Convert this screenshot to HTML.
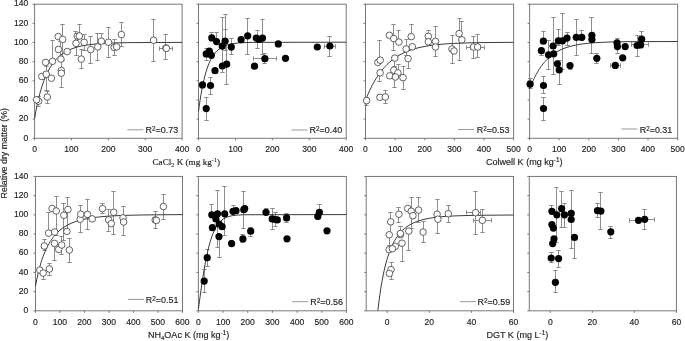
<!DOCTYPE html>
<html><head><meta charset="utf-8"><style>
html,body{margin:0;padding:0;background:#fff;width:685px;height:341px;overflow:hidden}
svg{display:block;will-change:transform}
text{font-family:"Liberation Sans",sans-serif;fill:#222;stroke:#222;stroke-width:0.15px}
.tk{font-size:8.55px}
.lg{font-size:8.95px}
.ttl{font-size:9.05px}
.ser{font-family:"Liberation Serif",serif;font-size:9.2px}
</style></head><body>
<svg width="685" height="341" viewBox="0 0 685 341">
<rect x="34.6" y="4.2" width="147.5" height="134.1" fill="none" stroke="#777" stroke-width="1"/>
<line x1="32.6" y1="138.3" x2="34.6" y2="138.3" stroke="#777"/>
<text x="28.3" y="140.5" text-anchor="end" class="tk">0</text>
<line x1="32.6" y1="119.14" x2="34.6" y2="119.14" stroke="#777"/>
<text x="28.3" y="121.34" text-anchor="end" class="tk">20</text>
<line x1="32.6" y1="99.99" x2="34.6" y2="99.99" stroke="#777"/>
<text x="28.3" y="102.19" text-anchor="end" class="tk">40</text>
<line x1="32.6" y1="80.83" x2="34.6" y2="80.83" stroke="#777"/>
<text x="28.3" y="83.03" text-anchor="end" class="tk">60</text>
<line x1="32.6" y1="61.67" x2="34.6" y2="61.67" stroke="#777"/>
<text x="28.3" y="63.87" text-anchor="end" class="tk">80</text>
<line x1="32.6" y1="42.51" x2="34.6" y2="42.51" stroke="#777"/>
<text x="28.3" y="44.71" text-anchor="end" class="tk">100</text>
<line x1="32.6" y1="23.36" x2="34.6" y2="23.36" stroke="#777"/>
<text x="28.3" y="25.56" text-anchor="end" class="tk">120</text>
<line x1="32.6" y1="4.2" x2="34.6" y2="4.2" stroke="#777"/>
<text x="28.3" y="6.4" text-anchor="end" class="tk">140</text>
<line x1="34.6" y1="138.3" x2="34.6" y2="140.3" stroke="#777"/>
<text x="34.6" y="151.9" text-anchor="middle" class="tk">0</text>
<line x1="71.47" y1="138.3" x2="71.47" y2="140.3" stroke="#777"/>
<text x="71.47" y="151.9" text-anchor="middle" class="tk">100</text>
<line x1="108.35" y1="138.3" x2="108.35" y2="140.3" stroke="#777"/>
<text x="108.35" y="151.9" text-anchor="middle" class="tk">200</text>
<line x1="145.22" y1="138.3" x2="145.22" y2="140.3" stroke="#777"/>
<text x="145.22" y="151.9" text-anchor="middle" class="tk">300</text>
<line x1="182.1" y1="138.3" x2="182.1" y2="140.3" stroke="#777"/>
<text x="182.1" y="151.9" text-anchor="middle" class="tk">400</text>
<rect x="198.5" y="4.2" width="147.7" height="134.1" fill="none" stroke="#777" stroke-width="1"/>
<line x1="196.5" y1="138.3" x2="198.5" y2="138.3" stroke="#777"/>
<line x1="196.5" y1="119.14" x2="198.5" y2="119.14" stroke="#777"/>
<line x1="196.5" y1="99.99" x2="198.5" y2="99.99" stroke="#777"/>
<line x1="196.5" y1="80.83" x2="198.5" y2="80.83" stroke="#777"/>
<line x1="196.5" y1="61.67" x2="198.5" y2="61.67" stroke="#777"/>
<line x1="196.5" y1="42.51" x2="198.5" y2="42.51" stroke="#777"/>
<line x1="196.5" y1="23.36" x2="198.5" y2="23.36" stroke="#777"/>
<line x1="196.5" y1="4.2" x2="198.5" y2="4.2" stroke="#777"/>
<line x1="198.5" y1="138.3" x2="198.5" y2="140.3" stroke="#777"/>
<text x="198.5" y="151.9" text-anchor="middle" class="tk">0</text>
<line x1="235.43" y1="138.3" x2="235.43" y2="140.3" stroke="#777"/>
<text x="235.43" y="151.9" text-anchor="middle" class="tk">100</text>
<line x1="272.35" y1="138.3" x2="272.35" y2="140.3" stroke="#777"/>
<text x="272.35" y="151.9" text-anchor="middle" class="tk">200</text>
<line x1="309.27" y1="138.3" x2="309.27" y2="140.3" stroke="#777"/>
<text x="309.27" y="151.9" text-anchor="middle" class="tk">300</text>
<line x1="346.2" y1="138.3" x2="346.2" y2="140.3" stroke="#777"/>
<text x="346.2" y="151.9" text-anchor="middle" class="tk">400</text>
<rect x="365.5" y="4.2" width="148.1" height="134.1" fill="none" stroke="#777" stroke-width="1"/>
<line x1="363.5" y1="138.3" x2="365.5" y2="138.3" stroke="#777"/>
<line x1="363.5" y1="119.14" x2="365.5" y2="119.14" stroke="#777"/>
<line x1="363.5" y1="99.99" x2="365.5" y2="99.99" stroke="#777"/>
<line x1="363.5" y1="80.83" x2="365.5" y2="80.83" stroke="#777"/>
<line x1="363.5" y1="61.67" x2="365.5" y2="61.67" stroke="#777"/>
<line x1="363.5" y1="42.51" x2="365.5" y2="42.51" stroke="#777"/>
<line x1="363.5" y1="23.36" x2="365.5" y2="23.36" stroke="#777"/>
<line x1="363.5" y1="4.2" x2="365.5" y2="4.2" stroke="#777"/>
<line x1="365.5" y1="138.3" x2="365.5" y2="140.3" stroke="#777"/>
<text x="365.5" y="151.9" text-anchor="middle" class="tk">0</text>
<line x1="395.12" y1="138.3" x2="395.12" y2="140.3" stroke="#777"/>
<text x="395.12" y="151.9" text-anchor="middle" class="tk">100</text>
<line x1="424.74" y1="138.3" x2="424.74" y2="140.3" stroke="#777"/>
<text x="424.74" y="151.9" text-anchor="middle" class="tk">200</text>
<line x1="454.36" y1="138.3" x2="454.36" y2="140.3" stroke="#777"/>
<text x="454.36" y="151.9" text-anchor="middle" class="tk">300</text>
<line x1="483.98" y1="138.3" x2="483.98" y2="140.3" stroke="#777"/>
<text x="483.98" y="151.9" text-anchor="middle" class="tk">400</text>
<line x1="513.6" y1="138.3" x2="513.6" y2="140.3" stroke="#777"/>
<text x="513.6" y="151.9" text-anchor="middle" class="tk">500</text>
<rect x="529.6" y="4.2" width="148" height="134.1" fill="none" stroke="#777" stroke-width="1"/>
<line x1="527.6" y1="138.3" x2="529.6" y2="138.3" stroke="#777"/>
<line x1="527.6" y1="119.14" x2="529.6" y2="119.14" stroke="#777"/>
<line x1="527.6" y1="99.99" x2="529.6" y2="99.99" stroke="#777"/>
<line x1="527.6" y1="80.83" x2="529.6" y2="80.83" stroke="#777"/>
<line x1="527.6" y1="61.67" x2="529.6" y2="61.67" stroke="#777"/>
<line x1="527.6" y1="42.51" x2="529.6" y2="42.51" stroke="#777"/>
<line x1="527.6" y1="23.36" x2="529.6" y2="23.36" stroke="#777"/>
<line x1="527.6" y1="4.2" x2="529.6" y2="4.2" stroke="#777"/>
<line x1="529.6" y1="138.3" x2="529.6" y2="140.3" stroke="#777"/>
<text x="529.6" y="151.9" text-anchor="middle" class="tk">0</text>
<line x1="559.2" y1="138.3" x2="559.2" y2="140.3" stroke="#777"/>
<text x="559.2" y="151.9" text-anchor="middle" class="tk">100</text>
<line x1="588.8" y1="138.3" x2="588.8" y2="140.3" stroke="#777"/>
<text x="588.8" y="151.9" text-anchor="middle" class="tk">200</text>
<line x1="618.4" y1="138.3" x2="618.4" y2="140.3" stroke="#777"/>
<text x="618.4" y="151.9" text-anchor="middle" class="tk">300</text>
<line x1="648" y1="138.3" x2="648" y2="140.3" stroke="#777"/>
<text x="648" y="151.9" text-anchor="middle" class="tk">400</text>
<line x1="677.6" y1="138.3" x2="677.6" y2="140.3" stroke="#777"/>
<text x="677.6" y="151.9" text-anchor="middle" class="tk">500</text>
<rect x="35.5" y="176.45" width="147" height="134.35" fill="none" stroke="#777" stroke-width="1"/>
<line x1="33.5" y1="310.8" x2="35.5" y2="310.8" stroke="#777"/>
<text x="28.3" y="313" text-anchor="end" class="tk">0</text>
<line x1="33.5" y1="291.61" x2="35.5" y2="291.61" stroke="#777"/>
<text x="28.3" y="293.81" text-anchor="end" class="tk">20</text>
<line x1="33.5" y1="272.41" x2="35.5" y2="272.41" stroke="#777"/>
<text x="28.3" y="274.61" text-anchor="end" class="tk">40</text>
<line x1="33.5" y1="253.22" x2="35.5" y2="253.22" stroke="#777"/>
<text x="28.3" y="255.42" text-anchor="end" class="tk">60</text>
<line x1="33.5" y1="234.03" x2="35.5" y2="234.03" stroke="#777"/>
<text x="28.3" y="236.23" text-anchor="end" class="tk">80</text>
<line x1="33.5" y1="214.84" x2="35.5" y2="214.84" stroke="#777"/>
<text x="28.3" y="217.04" text-anchor="end" class="tk">100</text>
<line x1="33.5" y1="195.64" x2="35.5" y2="195.64" stroke="#777"/>
<text x="28.3" y="197.84" text-anchor="end" class="tk">120</text>
<line x1="33.5" y1="176.45" x2="35.5" y2="176.45" stroke="#777"/>
<text x="28.3" y="178.65" text-anchor="end" class="tk">140</text>
<line x1="35.5" y1="310.8" x2="35.5" y2="312.8" stroke="#777"/>
<text x="35.5" y="324.8" text-anchor="middle" class="tk">0</text>
<line x1="60" y1="310.8" x2="60" y2="312.8" stroke="#777"/>
<text x="60" y="324.8" text-anchor="middle" class="tk">100</text>
<line x1="84.5" y1="310.8" x2="84.5" y2="312.8" stroke="#777"/>
<text x="84.5" y="324.8" text-anchor="middle" class="tk">200</text>
<line x1="109" y1="310.8" x2="109" y2="312.8" stroke="#777"/>
<text x="109" y="324.8" text-anchor="middle" class="tk">300</text>
<line x1="133.5" y1="310.8" x2="133.5" y2="312.8" stroke="#777"/>
<text x="133.5" y="324.8" text-anchor="middle" class="tk">400</text>
<line x1="158" y1="310.8" x2="158" y2="312.8" stroke="#777"/>
<text x="158" y="324.8" text-anchor="middle" class="tk">500</text>
<line x1="182.5" y1="310.8" x2="182.5" y2="312.8" stroke="#777"/>
<text x="182.5" y="324.8" text-anchor="middle" class="tk">600</text>
<rect x="198.4" y="176.45" width="148" height="134.35" fill="none" stroke="#777" stroke-width="1"/>
<line x1="196.4" y1="310.8" x2="198.4" y2="310.8" stroke="#777"/>
<line x1="196.4" y1="291.61" x2="198.4" y2="291.61" stroke="#777"/>
<line x1="196.4" y1="272.41" x2="198.4" y2="272.41" stroke="#777"/>
<line x1="196.4" y1="253.22" x2="198.4" y2="253.22" stroke="#777"/>
<line x1="196.4" y1="234.03" x2="198.4" y2="234.03" stroke="#777"/>
<line x1="196.4" y1="214.84" x2="198.4" y2="214.84" stroke="#777"/>
<line x1="196.4" y1="195.64" x2="198.4" y2="195.64" stroke="#777"/>
<line x1="196.4" y1="176.45" x2="198.4" y2="176.45" stroke="#777"/>
<line x1="198.4" y1="310.8" x2="198.4" y2="312.8" stroke="#777"/>
<text x="198.4" y="324.8" text-anchor="middle" class="tk">0</text>
<line x1="223.07" y1="310.8" x2="223.07" y2="312.8" stroke="#777"/>
<text x="223.07" y="324.8" text-anchor="middle" class="tk">100</text>
<line x1="247.73" y1="310.8" x2="247.73" y2="312.8" stroke="#777"/>
<text x="247.73" y="324.8" text-anchor="middle" class="tk">200</text>
<line x1="272.4" y1="310.8" x2="272.4" y2="312.8" stroke="#777"/>
<text x="272.4" y="324.8" text-anchor="middle" class="tk">300</text>
<line x1="297.07" y1="310.8" x2="297.07" y2="312.8" stroke="#777"/>
<text x="297.07" y="324.8" text-anchor="middle" class="tk">400</text>
<line x1="321.73" y1="310.8" x2="321.73" y2="312.8" stroke="#777"/>
<text x="321.73" y="324.8" text-anchor="middle" class="tk">500</text>
<line x1="346.4" y1="310.8" x2="346.4" y2="312.8" stroke="#777"/>
<text x="346.4" y="324.8" text-anchor="middle" class="tk">600</text>
<rect x="366.2" y="176.45" width="147.3" height="134.35" fill="none" stroke="#777" stroke-width="1"/>
<line x1="364.2" y1="310.8" x2="366.2" y2="310.8" stroke="#777"/>
<line x1="364.2" y1="291.61" x2="366.2" y2="291.61" stroke="#777"/>
<line x1="364.2" y1="272.41" x2="366.2" y2="272.41" stroke="#777"/>
<line x1="364.2" y1="253.22" x2="366.2" y2="253.22" stroke="#777"/>
<line x1="364.2" y1="234.03" x2="366.2" y2="234.03" stroke="#777"/>
<line x1="364.2" y1="214.84" x2="366.2" y2="214.84" stroke="#777"/>
<line x1="364.2" y1="195.64" x2="366.2" y2="195.64" stroke="#777"/>
<line x1="364.2" y1="176.45" x2="366.2" y2="176.45" stroke="#777"/>
<line x1="387.24" y1="310.8" x2="387.24" y2="312.8" stroke="#777"/>
<text x="387.24" y="324.8" text-anchor="middle" class="tk">0</text>
<line x1="429.33" y1="310.8" x2="429.33" y2="312.8" stroke="#777"/>
<text x="429.33" y="324.8" text-anchor="middle" class="tk">20</text>
<line x1="471.41" y1="310.8" x2="471.41" y2="312.8" stroke="#777"/>
<text x="471.41" y="324.8" text-anchor="middle" class="tk">40</text>
<line x1="513.5" y1="310.8" x2="513.5" y2="312.8" stroke="#777"/>
<text x="513.5" y="324.8" text-anchor="middle" class="tk">60</text>
<rect x="529.3" y="176.45" width="147.1" height="134.35" fill="none" stroke="#777" stroke-width="1"/>
<line x1="527.3" y1="310.8" x2="529.3" y2="310.8" stroke="#777"/>
<line x1="527.3" y1="291.61" x2="529.3" y2="291.61" stroke="#777"/>
<line x1="527.3" y1="272.41" x2="529.3" y2="272.41" stroke="#777"/>
<line x1="527.3" y1="253.22" x2="529.3" y2="253.22" stroke="#777"/>
<line x1="527.3" y1="234.03" x2="529.3" y2="234.03" stroke="#777"/>
<line x1="527.3" y1="214.84" x2="529.3" y2="214.84" stroke="#777"/>
<line x1="527.3" y1="195.64" x2="529.3" y2="195.64" stroke="#777"/>
<line x1="527.3" y1="176.45" x2="529.3" y2="176.45" stroke="#777"/>
<line x1="550.31" y1="310.8" x2="550.31" y2="312.8" stroke="#777"/>
<text x="550.31" y="324.8" text-anchor="middle" class="tk">0</text>
<line x1="592.34" y1="310.8" x2="592.34" y2="312.8" stroke="#777"/>
<text x="592.34" y="324.8" text-anchor="middle" class="tk">20</text>
<line x1="634.37" y1="310.8" x2="634.37" y2="312.8" stroke="#777"/>
<text x="634.37" y="324.8" text-anchor="middle" class="tk">40</text>
<line x1="676.4" y1="310.8" x2="676.4" y2="312.8" stroke="#777"/>
<text x="676.4" y="324.8" text-anchor="middle" class="tk">60</text>
<path d="M38.5,96.5V106.5M36.3,96.5h4.4M36.3,106.5h4.4" stroke="#808080" stroke-width="0.9" fill="none"/>
<path d="M47.5,91.5V103.5M45.3,91.5h4.4M45.3,103.5h4.4" stroke="#808080" stroke-width="0.9" fill="none"/>
<path d="M46.5,66.5V90.5M44.3,66.5h4.4M44.3,90.5h4.4" stroke="#808080" stroke-width="0.9" fill="none"/>
<path d="M52.5,40.5V62.5M50.3,40.5h4.4M50.3,62.5h4.4" stroke="#808080" stroke-width="0.9" fill="none"/>
<path d="M62.5,24.5V60.5M60.3,24.5h4.4M60.3,60.5h4.4" stroke="#808080" stroke-width="0.9" fill="none"/>
<path d="M60.5,41.5V59.5M58.3,41.5h4.4M58.3,59.5h4.4" stroke="#808080" stroke-width="0.9" fill="none"/>
<path d="M61.5,59.5V87.5M59.3,59.5h4.4M59.3,87.5h4.4" stroke="#808080" stroke-width="0.9" fill="none"/>
<path d="M75.5,31.5V43.5M73.3,31.5h4.4M73.3,43.5h4.4" stroke="#808080" stroke-width="0.9" fill="none"/>
<path d="M84.5,34.5V50.5M82.3,34.5h4.4M82.3,50.5h4.4" stroke="#808080" stroke-width="0.9" fill="none"/>
<path d="M81.5,59.5V68.5M79.3,59.5h4.4M79.3,68.5h4.4" stroke="#808080" stroke-width="0.9" fill="none"/>
<path d="M90.5,36.5V63.5M88.3,36.5h4.4M88.3,63.5h4.4" stroke="#808080" stroke-width="0.9" fill="none"/>
<path d="M97.5,33.5V60.5M95.3,33.5h4.4M95.3,60.5h4.4" stroke="#808080" stroke-width="0.9" fill="none"/>
<path d="M101.5,33.5V41.5M99.3,33.5h4.4M99.3,41.5h4.4" stroke="#808080" stroke-width="0.9" fill="none"/>
<path d="M108.5,27.5V57.5M106.3,27.5h4.4M106.3,57.5h4.4" stroke="#808080" stroke-width="0.9" fill="none"/>
<path d="M114.5,39.5V55.5M112.3,39.5h4.4M112.3,55.5h4.4" stroke="#808080" stroke-width="0.9" fill="none"/>
<path d="M121.5,22.5V46.5M119.3,22.5h4.4M119.3,46.5h4.4" stroke="#808080" stroke-width="0.9" fill="none"/>
<path d="M153.5,19.5V61.5M151.3,19.5h4.4M151.3,61.5h4.4" stroke="#808080" stroke-width="0.9" fill="none"/>
<path d="M165.5,34.5V59.5M163.3,34.5h4.4M163.3,59.5h4.4" stroke="#808080" stroke-width="0.9" fill="none"/>
<path d="M79.5,24.5V36.5M77.3,24.5h4.4M77.3,36.5h4.4" stroke="#808080" stroke-width="0.9" fill="none"/>
<path d="M76.5,43.5V55.5M74.3,43.5h4.4M74.3,55.5h4.4" stroke="#808080" stroke-width="0.9" fill="none"/>
<path d="M81.5,49.5V59.5M79.3,49.5h4.4M79.3,59.5h4.4" stroke="#808080" stroke-width="0.9" fill="none"/>
<path d="M159.5,48.5H172.5M159.5,46.3v4.4M172.5,46.3v4.4" stroke="#808080" stroke-width="0.9" fill="none"/>
<path fill="none" stroke="#3a3a3a" stroke-width="1" stroke-linejoin="round" d="M34.60,118.38 L35.00,116.02 L36.00,110.51 L37.00,105.51 L38.00,100.96 L39.00,96.80 L40.00,92.99 L41.00,89.48 L42.00,86.25 L43.00,83.28 L44.00,80.53 L45.00,77.98 L46.00,75.63 L47.00,73.45 L48.00,71.42 L49.00,69.54 L50.00,67.80 L51.00,66.17 L52.00,64.66 L53.00,63.25 L54.00,61.94 L55.00,60.71 L56.00,59.57 L57.00,58.50 L58.00,57.51 L59.00,56.58 L60.00,55.71 L61.00,54.90 L62.00,54.14 L63.00,53.43 L64.00,52.76 L65.00,52.14 L66.00,51.55 L67.00,51.01 L68.00,50.50 L69.00,50.01 L72.00,48.74 L75.00,47.69 L78.00,46.83 L81.00,46.10 L84.00,45.50 L87.00,45.00 L90.00,44.59 L93.00,44.24 L96.00,43.95 L99.00,43.70 L102.00,43.50 L105.00,43.33 L108.00,43.18 L111.00,43.06 L114.00,42.96 L117.00,42.87 L120.00,42.80 L123.00,42.74 L126.00,42.69 L129.00,42.65 L132.00,42.61 L135.00,42.58 L182.1,42.40"/>
<circle cx="38.7" cy="101.1" r="3.3" fill="#fff" stroke="#3c3c3c" stroke-width="0.8"/>
<circle cx="47.3" cy="97.0" r="3.3" fill="#fff" stroke="#3c3c3c" stroke-width="0.8"/>
<circle cx="41.8" cy="76.5" r="3.3" fill="#fff" stroke="#3c3c3c" stroke-width="0.8"/>
<circle cx="46.3" cy="74.2" r="3.3" fill="#fff" stroke="#3c3c3c" stroke-width="0.8"/>
<circle cx="51.4" cy="78.2" r="3.3" fill="#fff" stroke="#3c3c3c" stroke-width="0.8"/>
<circle cx="45.6" cy="62.4" r="3.3" fill="#fff" stroke="#3c3c3c" stroke-width="0.8"/>
<circle cx="52.5" cy="61.3" r="3.3" fill="#fff" stroke="#3c3c3c" stroke-width="0.8"/>
<circle cx="60.9" cy="59.1" r="3.3" fill="#fff" stroke="#3c3c3c" stroke-width="0.8"/>
<circle cx="61.3" cy="70.4" r="3.3" fill="#fff" stroke="#3c3c3c" stroke-width="0.8"/>
<circle cx="61.3" cy="73.2" r="3.3" fill="#fff" stroke="#3c3c3c" stroke-width="0.8"/>
<circle cx="58.2" cy="36.6" r="3.3" fill="#fff" stroke="#3c3c3c" stroke-width="0.8"/>
<circle cx="62.7" cy="39.4" r="3.3" fill="#fff" stroke="#3c3c3c" stroke-width="0.8"/>
<circle cx="58.4" cy="49.4" r="3.3" fill="#fff" stroke="#3c3c3c" stroke-width="0.8"/>
<circle cx="67.2" cy="51.6" r="3.3" fill="#fff" stroke="#3c3c3c" stroke-width="0.8"/>
<circle cx="76.0" cy="43.3" r="3.3" fill="#fff" stroke="#3c3c3c" stroke-width="0.8"/>
<circle cx="84.1" cy="42.3" r="3.3" fill="#fff" stroke="#3c3c3c" stroke-width="0.8"/>
<circle cx="81.3" cy="59.1" r="3.3" fill="#fff" stroke="#3c3c3c" stroke-width="0.8"/>
<circle cx="90.7" cy="49.6" r="3.3" fill="#fff" stroke="#3c3c3c" stroke-width="0.8"/>
<circle cx="97.8" cy="46.9" r="3.3" fill="#fff" stroke="#3c3c3c" stroke-width="0.8"/>
<circle cx="101.3" cy="41.2" r="3.3" fill="#fff" stroke="#3c3c3c" stroke-width="0.8"/>
<circle cx="108.5" cy="42.2" r="3.3" fill="#fff" stroke="#3c3c3c" stroke-width="0.8"/>
<circle cx="114.2" cy="47.5" r="3.3" fill="#fff" stroke="#3c3c3c" stroke-width="0.8"/>
<circle cx="116.7" cy="46.9" r="3.3" fill="#fff" stroke="#3c3c3c" stroke-width="0.8"/>
<circle cx="121.4" cy="34.6" r="3.3" fill="#fff" stroke="#3c3c3c" stroke-width="0.8"/>
<circle cx="153.6" cy="40.2" r="3.3" fill="#fff" stroke="#3c3c3c" stroke-width="0.8"/>
<circle cx="165.9" cy="48.0" r="3.3" fill="#fff" stroke="#3c3c3c" stroke-width="0.8"/>
<circle cx="77.4" cy="36.2" r="3.3" fill="#fff" stroke="#3c3c3c" stroke-width="0.8"/>
<circle cx="79.4" cy="36.0" r="3.3" fill="#fff" stroke="#3c3c3c" stroke-width="0.8"/>
<circle cx="36.6" cy="99.8" r="3.3" fill="#fff" stroke="#3c3c3c" stroke-width="0.8"/>
<circle cx="166.4" cy="48.4" r="3.3" fill="#fff" stroke="#3c3c3c" stroke-width="0.8"/>
<line x1="127.3" y1="129.8" x2="143.3" y2="129.8" stroke="#999" stroke-width="1"/>
<text x="145.6" y="132.9" class="lg">R<tspan dy="-2.1" font-size="6.3px">2</tspan><tspan dy="2.1">=0.73</tspan></text>
<path d="M206.5,97.5V120.5M204.3,97.5h4.4M204.3,120.5h4.4" stroke="#808080" stroke-width="0.9" fill="none"/>
<path d="M210.5,77.5V94.5M208.3,77.5h4.4M208.3,94.5h4.4" stroke="#808080" stroke-width="0.9" fill="none"/>
<path d="M211.5,32.5V38.5M209.3,32.5h4.4M209.3,38.5h4.4" stroke="#808080" stroke-width="0.9" fill="none"/>
<path d="M216.5,32.5V42.5M214.3,32.5h4.4M214.3,42.5h4.4" stroke="#808080" stroke-width="0.9" fill="none"/>
<path d="M206.5,48.5V60.5M204.3,48.5h4.4M204.3,60.5h4.4" stroke="#808080" stroke-width="0.9" fill="none"/>
<path d="M222.5,17.5V72.5M220.3,17.5h4.4M220.3,72.5h4.4" stroke="#808080" stroke-width="0.9" fill="none"/>
<path d="M225.5,14.5V41.5M223.3,14.5h4.4M223.3,41.5h4.4" stroke="#808080" stroke-width="0.9" fill="none"/>
<path d="M226.5,41.5V84.5M224.3,41.5h4.4M224.3,84.5h4.4" stroke="#808080" stroke-width="0.9" fill="none"/>
<path d="M225.5,29.5V50.5M223.3,29.5h4.4M223.3,50.5h4.4" stroke="#808080" stroke-width="0.9" fill="none"/>
<path d="M231.5,38.5V54.5M229.3,38.5h4.4M229.3,54.5h4.4" stroke="#808080" stroke-width="0.9" fill="none"/>
<path d="M247.5,18.5V54.5M245.3,18.5h4.4M245.3,54.5h4.4" stroke="#808080" stroke-width="0.9" fill="none"/>
<path d="M257.5,30.5V48.5M255.3,30.5h4.4M255.3,48.5h4.4" stroke="#808080" stroke-width="0.9" fill="none"/>
<path d="M262.5,19.5V54.5M260.3,19.5h4.4M260.3,54.5h4.4" stroke="#808080" stroke-width="0.9" fill="none"/>
<path d="M264.5,53.5V63.5M262.3,53.5h4.4M262.3,63.5h4.4" stroke="#808080" stroke-width="0.9" fill="none"/>
<path d="M329.5,36.5V56.5M327.3,36.5h4.4M327.3,56.5h4.4" stroke="#808080" stroke-width="0.9" fill="none"/>
<path d="M253.5,58.5H276.5M253.5,56.3v4.4M276.5,56.3v4.4" stroke="#808080" stroke-width="0.9" fill="none"/>
<path d="M324.5,46.5H335.5M324.5,44.3v4.4M335.5,44.3v4.4" stroke="#808080" stroke-width="0.9" fill="none"/>
<path fill="none" stroke="#3a3a3a" stroke-width="1" stroke-linejoin="round" d="M198.50,111.40 L199.00,107.62 L200.00,100.66 L201.00,94.45 L202.00,88.89 L203.00,83.93 L204.00,79.49 L205.00,75.53 L206.00,71.98 L207.00,68.82 L208.00,65.99 L209.00,63.46 L210.00,61.20 L211.00,59.18 L212.00,57.37 L213.00,55.76 L214.00,54.32 L215.00,53.03 L216.00,51.88 L217.00,50.85 L218.00,49.93 L221.00,47.72 L224.00,46.14 L227.00,45.01 L230.00,44.21 L233.00,43.63 L236.00,43.22 L239.00,42.93 L242.00,42.72 L245.00,42.57 L248.00,42.47 L251.00,42.39 L346.2,42.20"/>
<circle cx="202.5" cy="84.9" r="3.6" fill="#000"/>
<circle cx="210.5" cy="85.5" r="3.6" fill="#000"/>
<circle cx="206.2" cy="108.6" r="3.6" fill="#000"/>
<circle cx="206.2" cy="53.9" r="3.6" fill="#000"/>
<circle cx="209.3" cy="51.2" r="3.6" fill="#000"/>
<circle cx="211.4" cy="55.3" r="3.6" fill="#000"/>
<circle cx="211.8" cy="37.9" r="3.6" fill="#000"/>
<circle cx="216.5" cy="41.6" r="3.6" fill="#000"/>
<circle cx="215.0" cy="70.7" r="3.6" fill="#000"/>
<circle cx="222.2" cy="46.1" r="3.6" fill="#000"/>
<circle cx="225.1" cy="41.0" r="3.6" fill="#000"/>
<circle cx="231.3" cy="47.1" r="3.6" fill="#000"/>
<circle cx="222.3" cy="66.0" r="3.6" fill="#000"/>
<circle cx="226.7" cy="64.2" r="3.6" fill="#000"/>
<circle cx="241.1" cy="39.7" r="3.6" fill="#000"/>
<circle cx="247.7" cy="35.8" r="3.6" fill="#000"/>
<circle cx="256.3" cy="38.1" r="3.6" fill="#000"/>
<circle cx="259.0" cy="39.4" r="3.6" fill="#000"/>
<circle cx="262.5" cy="38.1" r="3.6" fill="#000"/>
<circle cx="254.5" cy="66.2" r="3.6" fill="#000"/>
<circle cx="264.9" cy="58.7" r="3.6" fill="#000"/>
<circle cx="278.3" cy="43.9" r="3.6" fill="#000"/>
<circle cx="285.5" cy="58.3" r="3.6" fill="#000"/>
<circle cx="317.3" cy="47.0" r="3.6" fill="#000"/>
<circle cx="329.9" cy="46.0" r="3.6" fill="#000"/>
<line x1="291.4" y1="130.0" x2="307.4" y2="130.0" stroke="#999" stroke-width="1"/>
<text x="309.6" y="132.9" class="lg">R<tspan dy="-2.1" font-size="6.3px">2</tspan><tspan dy="2.1">=0.40</tspan></text>
<path d="M366.5,97.5V105.5M364.3,97.5h4.4M364.3,105.5h4.4" stroke="#808080" stroke-width="0.9" fill="none"/>
<path d="M385.5,90.5V103.5M383.3,90.5h4.4M383.3,103.5h4.4" stroke="#808080" stroke-width="0.9" fill="none"/>
<path d="M379.5,73.5V81.5M377.3,73.5h4.4M377.3,81.5h4.4" stroke="#808080" stroke-width="0.9" fill="none"/>
<path d="M379.5,40.5V60.5M377.3,40.5h4.4M377.3,60.5h4.4" stroke="#808080" stroke-width="0.9" fill="none"/>
<path d="M393.5,24.5V50.5M391.3,24.5h4.4M391.3,50.5h4.4" stroke="#808080" stroke-width="0.9" fill="none"/>
<path d="M398.5,30.5V42.5M396.3,30.5h4.4M396.3,42.5h4.4" stroke="#808080" stroke-width="0.9" fill="none"/>
<path d="M394.5,58.5V66.5M392.3,58.5h4.4M392.3,66.5h4.4" stroke="#808080" stroke-width="0.9" fill="none"/>
<path d="M406.5,39.5V55.5M404.3,39.5h4.4M404.3,55.5h4.4" stroke="#808080" stroke-width="0.9" fill="none"/>
<path d="M411.5,24.5V36.5M409.3,24.5h4.4M409.3,36.5h4.4" stroke="#808080" stroke-width="0.9" fill="none"/>
<path d="M408.5,58.5V68.5M406.3,58.5h4.4M406.3,68.5h4.4" stroke="#808080" stroke-width="0.9" fill="none"/>
<path d="M428.5,30.5V36.5M426.3,30.5h4.4M426.3,36.5h4.4" stroke="#808080" stroke-width="0.9" fill="none"/>
<path d="M435.5,26.5V56.5M433.3,26.5h4.4M433.3,56.5h4.4" stroke="#808080" stroke-width="0.9" fill="none"/>
<path d="M452.5,35.5V63.5M450.3,35.5h4.4M450.3,63.5h4.4" stroke="#808080" stroke-width="0.9" fill="none"/>
<path d="M459.5,18.5V60.5M457.3,18.5h4.4M457.3,60.5h4.4" stroke="#808080" stroke-width="0.9" fill="none"/>
<path d="M461.5,21.5V39.5M459.3,21.5h4.4M459.3,39.5h4.4" stroke="#808080" stroke-width="0.9" fill="none"/>
<path d="M473.5,36.5V58.5M471.3,36.5h4.4M471.3,58.5h4.4" stroke="#808080" stroke-width="0.9" fill="none"/>
<path d="M477.5,34.5V57.5M475.3,34.5h4.4M475.3,57.5h4.4" stroke="#808080" stroke-width="0.9" fill="none"/>
<path d="M394.5,76.5V87.5M392.3,76.5h4.4M392.3,87.5h4.4" stroke="#808080" stroke-width="0.9" fill="none"/>
<path d="M403.5,78.5V89.5M401.3,78.5h4.4M401.3,89.5h4.4" stroke="#808080" stroke-width="0.9" fill="none"/>
<path d="M398.5,64.5V72.5M396.3,64.5h4.4M396.3,72.5h4.4" stroke="#808080" stroke-width="0.9" fill="none"/>
<path d="M403.5,66.5V78.5M401.3,66.5h4.4M401.3,78.5h4.4" stroke="#808080" stroke-width="0.9" fill="none"/>
<path d="M470.5,47.5H484.5M470.5,45.3v4.4M484.5,45.3v4.4" stroke="#808080" stroke-width="0.9" fill="none"/>
<path d="M466.5,47.5H480.5M466.5,45.3v4.4M480.5,45.3v4.4" stroke="#808080" stroke-width="0.9" fill="none"/>
<path fill="none" stroke="#3a3a3a" stroke-width="1" stroke-linejoin="round" d="M365.50,100.40 L366.00,99.12 L367.00,96.64 L368.00,94.27 L369.00,92.00 L370.00,89.83 L371.00,87.76 L372.00,85.78 L373.00,83.88 L374.00,82.07 L375.00,80.33 L376.00,78.67 L377.00,77.09 L378.00,75.57 L379.00,74.12 L380.00,72.73 L381.00,71.40 L382.00,70.13 L383.00,68.92 L384.00,67.76 L385.00,66.65 L386.00,65.59 L387.00,64.57 L388.00,63.60 L389.00,62.67 L390.00,61.78 L391.00,60.93 L392.00,60.12 L393.00,59.34 L394.00,58.60 L395.00,57.89 L396.00,57.21 L397.00,56.56 L398.00,55.94 L399.00,55.34 L400.00,54.77 L401.00,54.23 L402.00,53.71 L403.00,53.21 L404.00,52.73 L405.00,52.28 L406.00,51.84 L407.00,51.43 L408.00,51.03 L409.00,50.65 L410.00,50.28 L413.00,49.28 L416.00,48.41 L419.00,47.64 L422.00,46.98 L425.00,46.39 L428.00,45.88 L431.00,45.43 L434.00,45.04 L437.00,44.69 L440.00,44.39 L443.00,44.13 L446.00,43.90 L449.00,43.70 L452.00,43.53 L455.00,43.37 L458.00,43.24 L461.00,43.12 L464.00,43.02 L467.00,42.93 L470.00,42.85 L473.00,42.78 L476.00,42.72 L479.00,42.67 L482.00,42.62 L485.00,42.58 L488.00,42.55 L491.00,42.52 L494.00,42.49 L513.6,42.30"/>
<circle cx="366.6" cy="100.6" r="3.3" fill="#fff" stroke="#3c3c3c" stroke-width="0.8"/>
<circle cx="379.9" cy="97.3" r="3.3" fill="#fff" stroke="#3c3c3c" stroke-width="0.8"/>
<circle cx="385.3" cy="97.0" r="3.3" fill="#fff" stroke="#3c3c3c" stroke-width="0.8"/>
<circle cx="389.4" cy="35.3" r="3.3" fill="#fff" stroke="#3c3c3c" stroke-width="0.8"/>
<circle cx="393.8" cy="38.6" r="3.3" fill="#fff" stroke="#3c3c3c" stroke-width="0.8"/>
<circle cx="398.9" cy="42.1" r="3.3" fill="#fff" stroke="#3c3c3c" stroke-width="0.8"/>
<circle cx="394.8" cy="58.1" r="3.3" fill="#fff" stroke="#3c3c3c" stroke-width="0.8"/>
<circle cx="393.8" cy="70.1" r="3.3" fill="#fff" stroke="#3c3c3c" stroke-width="0.8"/>
<circle cx="397.9" cy="72.9" r="3.3" fill="#fff" stroke="#3c3c3c" stroke-width="0.8"/>
<circle cx="389.7" cy="75.8" r="3.3" fill="#fff" stroke="#3c3c3c" stroke-width="0.8"/>
<circle cx="395.4" cy="77.0" r="3.3" fill="#fff" stroke="#3c3c3c" stroke-width="0.8"/>
<circle cx="403.0" cy="77.7" r="3.3" fill="#fff" stroke="#3c3c3c" stroke-width="0.8"/>
<circle cx="406.1" cy="48.9" r="3.3" fill="#fff" stroke="#3c3c3c" stroke-width="0.8"/>
<circle cx="412.3" cy="46.8" r="3.3" fill="#fff" stroke="#3c3c3c" stroke-width="0.8"/>
<circle cx="411.2" cy="36.6" r="3.3" fill="#fff" stroke="#3c3c3c" stroke-width="0.8"/>
<circle cx="408.1" cy="58.6" r="3.3" fill="#fff" stroke="#3c3c3c" stroke-width="0.8"/>
<circle cx="428.3" cy="36.3" r="3.3" fill="#fff" stroke="#3c3c3c" stroke-width="0.8"/>
<circle cx="428.3" cy="41.8" r="3.3" fill="#fff" stroke="#3c3c3c" stroke-width="0.8"/>
<circle cx="435.5" cy="41.4" r="3.3" fill="#fff" stroke="#3c3c3c" stroke-width="0.8"/>
<circle cx="435.5" cy="47.0" r="3.3" fill="#fff" stroke="#3c3c3c" stroke-width="0.8"/>
<circle cx="452.0" cy="49.0" r="3.3" fill="#fff" stroke="#3c3c3c" stroke-width="0.8"/>
<circle cx="454.0" cy="51.0" r="3.3" fill="#fff" stroke="#3c3c3c" stroke-width="0.8"/>
<circle cx="459.1" cy="33.6" r="3.3" fill="#fff" stroke="#3c3c3c" stroke-width="0.8"/>
<circle cx="461.8" cy="39.8" r="3.3" fill="#fff" stroke="#3c3c3c" stroke-width="0.8"/>
<circle cx="473.5" cy="47.0" r="3.3" fill="#fff" stroke="#3c3c3c" stroke-width="0.8"/>
<circle cx="477.6" cy="47.0" r="3.3" fill="#fff" stroke="#3c3c3c" stroke-width="0.8"/>
<circle cx="377.9" cy="62.4" r="3.3" fill="#fff" stroke="#3c3c3c" stroke-width="0.8"/>
<circle cx="380.2" cy="60.2" r="3.3" fill="#fff" stroke="#3c3c3c" stroke-width="0.8"/>
<circle cx="380.1" cy="72.8" r="3.3" fill="#fff" stroke="#3c3c3c" stroke-width="0.8"/>
<line x1="458.2" y1="129.5" x2="474.2" y2="129.5" stroke="#999" stroke-width="1"/>
<text x="476.8" y="132.9" class="lg">R<tspan dy="-2.1" font-size="6.3px">2</tspan><tspan dy="2.1">=0.53</tspan></text>
<path d="M530.5,78.5V88.5M528.3,78.5h4.4M528.3,88.5h4.4" stroke="#808080" stroke-width="0.9" fill="none"/>
<path d="M543.5,76.5V93.5M541.3,76.5h4.4M541.3,93.5h4.4" stroke="#808080" stroke-width="0.9" fill="none"/>
<path d="M543.5,97.5V120.5M541.3,97.5h4.4M541.3,120.5h4.4" stroke="#808080" stroke-width="0.9" fill="none"/>
<path d="M543.5,31.5V41.5M541.3,31.5h4.4M541.3,41.5h4.4" stroke="#808080" stroke-width="0.9" fill="none"/>
<path d="M541.5,50.5V55.5M539.3,50.5h4.4M539.3,55.5h4.4" stroke="#808080" stroke-width="0.9" fill="none"/>
<path d="M548.5,40.5V69.5M546.3,40.5h4.4M546.3,69.5h4.4" stroke="#808080" stroke-width="0.9" fill="none"/>
<path d="M553.5,17.5V74.5M551.3,17.5h4.4M551.3,74.5h4.4" stroke="#808080" stroke-width="0.9" fill="none"/>
<path d="M558.5,29.5V45.5M556.3,29.5h4.4M556.3,45.5h4.4" stroke="#808080" stroke-width="0.9" fill="none"/>
<path d="M562.5,13.5V69.5M560.3,13.5h4.4M560.3,69.5h4.4" stroke="#808080" stroke-width="0.9" fill="none"/>
<path d="M567.5,32.5V45.5M565.3,32.5h4.4M565.3,45.5h4.4" stroke="#808080" stroke-width="0.9" fill="none"/>
<path d="M559.5,60.5V84.5M557.3,60.5h4.4M557.3,84.5h4.4" stroke="#808080" stroke-width="0.9" fill="none"/>
<path d="M570.5,63.5V69.5M568.3,63.5h4.4M568.3,69.5h4.4" stroke="#808080" stroke-width="0.9" fill="none"/>
<path d="M576.5,19.5V55.5M574.3,19.5h4.4M574.3,55.5h4.4" stroke="#808080" stroke-width="0.9" fill="none"/>
<path d="M581.5,30.5V40.5M579.3,30.5h4.4M579.3,40.5h4.4" stroke="#808080" stroke-width="0.9" fill="none"/>
<path d="M591.5,17.5V53.5M589.3,17.5h4.4M589.3,53.5h4.4" stroke="#808080" stroke-width="0.9" fill="none"/>
<path d="M596.5,53.5V63.5M594.3,53.5h4.4M594.3,63.5h4.4" stroke="#808080" stroke-width="0.9" fill="none"/>
<path d="M617.5,38.5V53.5M615.3,38.5h4.4M615.3,53.5h4.4" stroke="#808080" stroke-width="0.9" fill="none"/>
<path d="M637.5,35.5V56.5M635.3,35.5h4.4M635.3,56.5h4.4" stroke="#808080" stroke-width="0.9" fill="none"/>
<path d="M641.5,31.5V45.5M639.3,31.5h4.4M639.3,45.5h4.4" stroke="#808080" stroke-width="0.9" fill="none"/>
<path d="M610.5,65.5H620.5M610.5,63.3v4.4M620.5,63.3v4.4" stroke="#808080" stroke-width="0.9" fill="none"/>
<path d="M631.5,44.5H648.5M631.5,42.3v4.4M648.5,42.3v4.4" stroke="#808080" stroke-width="0.9" fill="none"/>
<path fill="none" stroke="#3a3a3a" stroke-width="1" stroke-linejoin="round" d="M529.60,89.20 L530.00,88.14 L531.00,85.59 L532.00,83.18 L533.00,80.90 L534.00,78.75 L535.00,76.71 L536.00,74.79 L537.00,72.97 L538.00,71.25 L539.00,69.62 L540.00,68.09 L541.00,66.63 L542.00,65.26 L543.00,63.96 L544.00,62.74 L545.00,61.57 L546.00,60.48 L547.00,59.44 L548.00,58.46 L549.00,57.53 L550.00,56.66 L551.00,55.83 L552.00,55.05 L553.00,54.31 L554.00,53.61 L555.00,52.94 L556.00,52.32 L557.00,51.73 L558.00,51.17 L559.00,50.64 L560.00,50.14 L561.00,49.67 L562.00,49.22 L565.00,48.02 L568.00,47.01 L571.00,46.16 L574.00,45.43 L577.00,44.82 L580.00,44.31 L583.00,43.87 L586.00,43.50 L589.00,43.19 L592.00,42.93 L595.00,42.71 L598.00,42.52 L601.00,42.36 L604.00,42.23 L607.00,42.12 L610.00,42.02 L613.00,41.94 L616.00,41.87 L619.00,41.81 L622.00,41.77 L625.00,41.72 L628.00,41.69 L677.6,41.50"/>
<circle cx="530.1" cy="84.2" r="3.6" fill="#000"/>
<circle cx="543.5" cy="85.5" r="3.6" fill="#000"/>
<circle cx="543.5" cy="108.5" r="3.6" fill="#000"/>
<circle cx="541.4" cy="50.7" r="3.6" fill="#000"/>
<circle cx="543.4" cy="41.2" r="3.6" fill="#000"/>
<circle cx="548.5" cy="54.8" r="3.6" fill="#000"/>
<circle cx="553.1" cy="46.0" r="3.6" fill="#000"/>
<circle cx="553.7" cy="53.8" r="3.6" fill="#000"/>
<circle cx="558.4" cy="40.8" r="3.6" fill="#000"/>
<circle cx="562.5" cy="40.8" r="3.6" fill="#000"/>
<circle cx="567.0" cy="38.1" r="3.6" fill="#000"/>
<circle cx="557.4" cy="63.8" r="3.6" fill="#000"/>
<circle cx="559.2" cy="70.0" r="3.6" fill="#000"/>
<circle cx="570.0" cy="65.6" r="3.6" fill="#000"/>
<circle cx="576.3" cy="37.3" r="3.6" fill="#000"/>
<circle cx="581.8" cy="37.3" r="3.6" fill="#000"/>
<circle cx="591.9" cy="35.3" r="3.6" fill="#000"/>
<circle cx="591.9" cy="39.4" r="3.6" fill="#000"/>
<circle cx="596.8" cy="58.3" r="3.6" fill="#000"/>
<circle cx="617.0" cy="42.9" r="3.6" fill="#000"/>
<circle cx="617.4" cy="46.6" r="3.6" fill="#000"/>
<circle cx="625.2" cy="46.6" r="3.6" fill="#000"/>
<circle cx="622.7" cy="57.8" r="3.6" fill="#000"/>
<circle cx="615.3" cy="65.4" r="3.6" fill="#000"/>
<circle cx="637.1" cy="45.5" r="3.6" fill="#000"/>
<circle cx="640.6" cy="44.9" r="3.6" fill="#000"/>
<circle cx="641.6" cy="39.2" r="3.6" fill="#000"/>
<line x1="621.4" y1="129.0" x2="637.4" y2="129.0" stroke="#999" stroke-width="1"/>
<text x="639.7" y="132.9" class="lg">R<tspan dy="-2.1" font-size="6.3px">2</tspan><tspan dy="2.1">=0.31</tspan></text>
<path d="M43.5,273.5V279.5M41.3,273.5h4.4M41.3,279.5h4.4" stroke="#808080" stroke-width="0.9" fill="none"/>
<path d="M49.5,263.5V275.5M47.3,263.5h4.4M47.3,275.5h4.4" stroke="#808080" stroke-width="0.9" fill="none"/>
<path d="M44.5,239.5V250.5M42.3,239.5h4.4M42.3,250.5h4.4" stroke="#808080" stroke-width="0.9" fill="none"/>
<path d="M54.5,243.5V260.5M52.3,243.5h4.4M52.3,260.5h4.4" stroke="#808080" stroke-width="0.9" fill="none"/>
<path d="M61.5,236.5V254.5M59.3,236.5h4.4M59.3,254.5h4.4" stroke="#808080" stroke-width="0.9" fill="none"/>
<path d="M69.5,238.5V262.5M67.3,238.5h4.4M67.3,262.5h4.4" stroke="#808080" stroke-width="0.9" fill="none"/>
<path d="M56.5,196.5V235.5M54.3,196.5h4.4M54.3,235.5h4.4" stroke="#808080" stroke-width="0.9" fill="none"/>
<path d="M67.5,197.5V230.5M65.3,197.5h4.4M65.3,230.5h4.4" stroke="#808080" stroke-width="0.9" fill="none"/>
<path d="M63.5,203.5V240.5M61.3,203.5h4.4M61.3,240.5h4.4" stroke="#808080" stroke-width="0.9" fill="none"/>
<path d="M48.5,212.5V233.5M46.3,212.5h4.4M46.3,233.5h4.4" stroke="#808080" stroke-width="0.9" fill="none"/>
<path d="M80.5,205.5V232.5M78.3,205.5h4.4M78.3,232.5h4.4" stroke="#808080" stroke-width="0.9" fill="none"/>
<path d="M87.5,199.5V229.5M85.3,199.5h4.4M85.3,229.5h4.4" stroke="#808080" stroke-width="0.9" fill="none"/>
<path d="M102.5,203.5V213.5M100.3,203.5h4.4M100.3,213.5h4.4" stroke="#808080" stroke-width="0.9" fill="none"/>
<path d="M108.5,209.5V231.5M106.3,209.5h4.4M106.3,231.5h4.4" stroke="#808080" stroke-width="0.9" fill="none"/>
<path d="M113.5,191.5V234.5M111.3,191.5h4.4M111.3,234.5h4.4" stroke="#808080" stroke-width="0.9" fill="none"/>
<path d="M123.5,206.5V235.5M121.3,206.5h4.4M121.3,235.5h4.4" stroke="#808080" stroke-width="0.9" fill="none"/>
<path d="M155.5,211.5V228.5M153.3,211.5h4.4M153.3,228.5h4.4" stroke="#808080" stroke-width="0.9" fill="none"/>
<path d="M163.5,194.5V219.5M161.3,194.5h4.4M161.3,219.5h4.4" stroke="#808080" stroke-width="0.9" fill="none"/>
<path fill="none" stroke="#3a3a3a" stroke-width="1" stroke-linejoin="round" d="M35.50,286.19 L36.00,283.44 L37.00,278.38 L38.00,273.84 L39.00,269.74 L40.00,266.02 L41.00,262.62 L42.00,259.51 L43.00,256.65 L44.00,254.03 L45.00,251.60 L46.00,249.36 L47.00,247.28 L48.00,245.35 L49.00,243.56 L50.00,241.89 L51.00,240.34 L52.00,238.89 L53.00,237.53 L54.00,236.26 L55.00,235.08 L56.00,233.97 L57.00,232.93 L58.00,231.95 L59.00,231.03 L60.00,230.17 L61.00,229.35 L62.00,228.59 L63.00,227.87 L64.00,227.19 L65.00,226.55 L66.00,225.95 L67.00,225.38 L68.00,224.85 L69.00,224.34 L70.00,223.86 L71.00,223.41 L72.00,222.98 L73.00,222.57 L76.00,221.48 L79.00,220.55 L82.00,219.76 L85.00,219.08 L88.00,218.49 L91.00,217.99 L94.00,217.56 L97.00,217.19 L100.00,216.86 L103.00,216.58 L106.00,216.34 L109.00,216.13 L112.00,215.94 L115.00,215.78 L118.00,215.64 L121.00,215.52 L124.00,215.41 L127.00,215.32 L130.00,215.23 L133.00,215.16 L136.00,215.10 L139.00,215.04 L142.00,214.99 L145.00,214.95 L148.00,214.91 L151.00,214.87 L154.00,214.84 L157.00,214.82 L160.00,214.79 L182.5,214.60"/>
<circle cx="39.8" cy="270.1" r="3.3" fill="#fff" stroke="#3c3c3c" stroke-width="0.8"/>
<circle cx="43.2" cy="273.1" r="3.3" fill="#fff" stroke="#3c3c3c" stroke-width="0.8"/>
<circle cx="49.4" cy="269.0" r="3.3" fill="#fff" stroke="#3c3c3c" stroke-width="0.8"/>
<circle cx="44.3" cy="246.0" r="3.3" fill="#fff" stroke="#3c3c3c" stroke-width="0.8"/>
<circle cx="48.6" cy="233.1" r="3.3" fill="#fff" stroke="#3c3c3c" stroke-width="0.8"/>
<circle cx="54.7" cy="232.0" r="3.3" fill="#fff" stroke="#3c3c3c" stroke-width="0.8"/>
<circle cx="54.5" cy="243.4" r="3.3" fill="#fff" stroke="#3c3c3c" stroke-width="0.8"/>
<circle cx="58.7" cy="249.4" r="3.3" fill="#fff" stroke="#3c3c3c" stroke-width="0.8"/>
<circle cx="61.7" cy="245.0" r="3.3" fill="#fff" stroke="#3c3c3c" stroke-width="0.8"/>
<circle cx="69.3" cy="250.0" r="3.3" fill="#fff" stroke="#3c3c3c" stroke-width="0.8"/>
<circle cx="66.9" cy="231.4" r="3.3" fill="#fff" stroke="#3c3c3c" stroke-width="0.8"/>
<circle cx="52.1" cy="208.5" r="3.3" fill="#fff" stroke="#3c3c3c" stroke-width="0.8"/>
<circle cx="56.2" cy="211.0" r="3.3" fill="#fff" stroke="#3c3c3c" stroke-width="0.8"/>
<circle cx="67.9" cy="209.5" r="3.3" fill="#fff" stroke="#3c3c3c" stroke-width="0.8"/>
<circle cx="63.8" cy="215.3" r="3.3" fill="#fff" stroke="#3c3c3c" stroke-width="0.8"/>
<circle cx="80.2" cy="219.2" r="3.3" fill="#fff" stroke="#3c3c3c" stroke-width="0.8"/>
<circle cx="80.8" cy="214.2" r="3.3" fill="#fff" stroke="#3c3c3c" stroke-width="0.8"/>
<circle cx="87.5" cy="214.4" r="3.3" fill="#fff" stroke="#3c3c3c" stroke-width="0.8"/>
<circle cx="92.2" cy="218.9" r="3.3" fill="#fff" stroke="#3c3c3c" stroke-width="0.8"/>
<circle cx="102.5" cy="208.6" r="3.3" fill="#fff" stroke="#3c3c3c" stroke-width="0.8"/>
<circle cx="108.6" cy="219.9" r="3.3" fill="#fff" stroke="#3c3c3c" stroke-width="0.8"/>
<circle cx="111.3" cy="223.6" r="3.3" fill="#fff" stroke="#3c3c3c" stroke-width="0.8"/>
<circle cx="113.7" cy="212.3" r="3.3" fill="#fff" stroke="#3c3c3c" stroke-width="0.8"/>
<circle cx="123.0" cy="217.9" r="3.3" fill="#fff" stroke="#3c3c3c" stroke-width="0.8"/>
<circle cx="123.6" cy="222.0" r="3.3" fill="#fff" stroke="#3c3c3c" stroke-width="0.8"/>
<circle cx="155.2" cy="219.9" r="3.3" fill="#fff" stroke="#3c3c3c" stroke-width="0.8"/>
<circle cx="163.4" cy="206.6" r="3.3" fill="#fff" stroke="#3c3c3c" stroke-width="0.8"/>
<circle cx="156.4" cy="220.4" r="3.3" fill="#fff" stroke="#3c3c3c" stroke-width="0.8"/>
<line x1="128.1" y1="299.4" x2="144.1" y2="299.4" stroke="#999" stroke-width="1"/>
<text x="145.8" y="303.3" class="lg">R<tspan dy="-2.1" font-size="6.3px">2</tspan><tspan dy="2.1">=0.51</tspan></text>
<path d="M204.5,269.5V292.5M202.3,269.5h4.4M202.3,292.5h4.4" stroke="#808080" stroke-width="0.9" fill="none"/>
<path d="M207.5,249.5V266.5M205.3,249.5h4.4M205.3,266.5h4.4" stroke="#808080" stroke-width="0.9" fill="none"/>
<path d="M211.5,204.5V214.5M209.3,204.5h4.4M209.3,214.5h4.4" stroke="#808080" stroke-width="0.9" fill="none"/>
<path d="M217.5,190.5V247.5M215.3,190.5h4.4M215.3,247.5h4.4" stroke="#808080" stroke-width="0.9" fill="none"/>
<path d="M219.5,236.5V257.5M217.3,236.5h4.4M217.3,257.5h4.4" stroke="#808080" stroke-width="0.9" fill="none"/>
<path d="M224.5,186.5V235.5M222.3,186.5h4.4M222.3,235.5h4.4" stroke="#808080" stroke-width="0.9" fill="none"/>
<path d="M233.5,205.5V211.5M231.3,205.5h4.4M231.3,211.5h4.4" stroke="#808080" stroke-width="0.9" fill="none"/>
<path d="M243.5,191.5V228.5M241.3,191.5h4.4M241.3,228.5h4.4" stroke="#808080" stroke-width="0.9" fill="none"/>
<path d="M231.5,240.5V243.5M229.3,240.5h4.4M229.3,243.5h4.4" stroke="#808080" stroke-width="0.9" fill="none"/>
<path d="M242.5,234.5V242.5M240.3,234.5h4.4M240.3,242.5h4.4" stroke="#808080" stroke-width="0.9" fill="none"/>
<path d="M250.5,227.5V236.5M248.3,227.5h4.4M248.3,236.5h4.4" stroke="#808080" stroke-width="0.9" fill="none"/>
<path d="M266.5,208.5V212.5M264.3,208.5h4.4M264.3,212.5h4.4" stroke="#808080" stroke-width="0.9" fill="none"/>
<path d="M272.5,208.5V229.5M270.3,208.5h4.4M270.3,229.5h4.4" stroke="#808080" stroke-width="0.9" fill="none"/>
<path d="M275.5,212.5V226.5M273.3,212.5h4.4M273.3,226.5h4.4" stroke="#808080" stroke-width="0.9" fill="none"/>
<path d="M286.5,213.5V222.5M284.3,213.5h4.4M284.3,222.5h4.4" stroke="#808080" stroke-width="0.9" fill="none"/>
<path d="M319.5,204.5V212.5M317.3,204.5h4.4M317.3,212.5h4.4" stroke="#808080" stroke-width="0.9" fill="none"/>
<path fill="none" stroke="#3a3a3a" stroke-width="1" stroke-linejoin="round" d="M198.40,309.33 L199.00,304.78 L200.00,297.28 L201.00,290.00 L202.00,283.04 L203.00,276.46 L204.00,270.30 L205.00,264.58 L206.00,259.30 L207.00,254.45 L208.00,250.03 L209.00,246.02 L210.00,242.38 L211.00,239.11 L212.00,236.18 L213.00,233.55 L214.00,231.20 L215.00,229.12 L216.00,227.27 L217.00,225.64 L218.00,224.20 L219.00,222.93 L220.00,221.82 L223.00,219.24 L226.00,217.55 L229.00,216.45 L232.00,215.74 L235.00,215.30 L238.00,215.02 L241.00,214.85 L244.00,214.75 L346.4,214.60"/>
<circle cx="204.2" cy="281.1" r="3.6" fill="#000"/>
<circle cx="207.2" cy="257.7" r="3.6" fill="#000"/>
<circle cx="211.8" cy="214.8" r="3.6" fill="#000"/>
<circle cx="217.5" cy="213.8" r="3.6" fill="#000"/>
<circle cx="215.9" cy="218.9" r="3.6" fill="#000"/>
<circle cx="212.4" cy="227.7" r="3.6" fill="#000"/>
<circle cx="219.2" cy="224.0" r="3.6" fill="#000"/>
<circle cx="222.1" cy="226.7" r="3.6" fill="#000"/>
<circle cx="219.0" cy="236.6" r="3.6" fill="#000"/>
<circle cx="224.7" cy="213.8" r="3.6" fill="#000"/>
<circle cx="233.0" cy="211.3" r="3.6" fill="#000"/>
<circle cx="236.0" cy="210.7" r="3.6" fill="#000"/>
<circle cx="243.8" cy="209.7" r="3.6" fill="#000"/>
<circle cx="244.7" cy="208.6" r="3.6" fill="#000"/>
<circle cx="231.6" cy="243.6" r="3.6" fill="#000"/>
<circle cx="242.9" cy="238.9" r="3.6" fill="#000"/>
<circle cx="250.7" cy="231.2" r="3.6" fill="#000"/>
<circle cx="266.0" cy="212.3" r="3.6" fill="#000"/>
<circle cx="272.2" cy="218.9" r="3.6" fill="#000"/>
<circle cx="275.0" cy="219.5" r="3.6" fill="#000"/>
<circle cx="277.3" cy="219.9" r="3.6" fill="#000"/>
<circle cx="286.6" cy="217.9" r="3.6" fill="#000"/>
<circle cx="287.0" cy="238.8" r="3.6" fill="#000"/>
<circle cx="319.4" cy="212.3" r="3.6" fill="#000"/>
<circle cx="317.8" cy="216.4" r="3.6" fill="#000"/>
<circle cx="327.0" cy="230.8" r="3.6" fill="#000"/>
<line x1="292.2" y1="301.7" x2="308.2" y2="301.7" stroke="#999" stroke-width="1"/>
<text x="310.3" y="304.9" class="lg">R<tspan dy="-2.1" font-size="6.3px">2</tspan><tspan dy="2.1">=0.56</tspan></text>
<path d="M391.5,262.5V279.5M389.3,262.5h4.4M389.3,279.5h4.4" stroke="#808080" stroke-width="0.9" fill="none"/>
<path d="M402.5,243.5V261.5M400.3,243.5h4.4M400.3,261.5h4.4" stroke="#808080" stroke-width="0.9" fill="none"/>
<path d="M408.5,231.5V250.5M406.3,231.5h4.4M406.3,250.5h4.4" stroke="#808080" stroke-width="0.9" fill="none"/>
<path d="M390.5,212.5V221.5M388.3,212.5h4.4M388.3,221.5h4.4" stroke="#808080" stroke-width="0.9" fill="none"/>
<path d="M398.5,207.5V214.5M396.3,207.5h4.4M396.3,214.5h4.4" stroke="#808080" stroke-width="0.9" fill="none"/>
<path d="M411.5,197.5V228.5M409.3,197.5h4.4M409.3,228.5h4.4" stroke="#808080" stroke-width="0.9" fill="none"/>
<path d="M418.5,197.5V222.5M416.3,197.5h4.4M416.3,222.5h4.4" stroke="#808080" stroke-width="0.9" fill="none"/>
<path d="M423.5,221.5V242.5M421.3,221.5h4.4M421.3,242.5h4.4" stroke="#808080" stroke-width="0.9" fill="none"/>
<path d="M437.5,199.5V214.5M435.3,199.5h4.4M435.3,214.5h4.4" stroke="#808080" stroke-width="0.9" fill="none"/>
<path d="M437.5,219.5V233.5M435.3,219.5h4.4M435.3,233.5h4.4" stroke="#808080" stroke-width="0.9" fill="none"/>
<path d="M448.5,205.5V222.5M446.3,205.5h4.4M446.3,222.5h4.4" stroke="#808080" stroke-width="0.9" fill="none"/>
<path d="M475.5,191.5V234.5M473.3,191.5h4.4M473.3,234.5h4.4" stroke="#808080" stroke-width="0.9" fill="none"/>
<path d="M482.5,209.5V232.5M480.3,209.5h4.4M480.3,232.5h4.4" stroke="#808080" stroke-width="0.9" fill="none"/>
<path d="M390.5,221.5V234.5M388.3,221.5h4.4M388.3,234.5h4.4" stroke="#808080" stroke-width="0.9" fill="none"/>
<path d="M398.5,214.5V222.5M396.3,214.5h4.4M396.3,222.5h4.4" stroke="#808080" stroke-width="0.9" fill="none"/>
<path d="M389.5,234.5V245.5M387.3,234.5h4.4M387.3,245.5h4.4" stroke="#808080" stroke-width="0.9" fill="none"/>
<path d="M400.5,226.5V234.5M398.3,226.5h4.4M398.3,234.5h4.4" stroke="#808080" stroke-width="0.9" fill="none"/>
<path d="M466.5,212.5H480.5M466.5,210.3v4.4M480.5,210.3v4.4" stroke="#808080" stroke-width="0.9" fill="none"/>
<path d="M473.5,220.5H491.5M473.5,218.3v4.4M491.5,218.3v4.4" stroke="#808080" stroke-width="0.9" fill="none"/>
<path fill="none" stroke="#3a3a3a" stroke-width="1" stroke-linejoin="round" d="M377.88,310.67 L378.00,309.59 L379.00,301.18 L380.00,293.76 L381.00,287.16 L382.00,281.26 L383.00,275.97 L384.00,271.21 L385.00,266.90 L386.00,263.00 L387.00,259.46 L388.00,256.23 L389.00,253.28 L390.00,250.58 L391.00,248.11 L392.00,245.84 L393.00,243.75 L394.00,241.82 L395.00,240.05 L396.00,238.41 L397.00,236.90 L398.00,235.50 L399.00,234.20 L400.00,233.00 L401.00,231.88 L402.00,230.84 L403.00,229.87 L404.00,228.97 L405.00,228.13 L406.00,227.35 L407.00,226.62 L408.00,225.94 L409.00,225.30 L410.00,224.71 L411.00,224.15 L412.00,223.63 L413.00,223.14 L414.00,222.68 L417.00,221.47 L420.00,220.47 L423.00,219.64 L426.00,218.94 L429.00,218.36 L432.00,217.87 L435.00,217.46 L438.00,217.11 L441.00,216.81 L444.00,216.56 L447.00,216.34 L450.00,216.16 L453.00,216.00 L456.00,215.87 L459.00,215.76 L462.00,215.66 L465.00,215.57 L468.00,215.50 L471.00,215.43 L474.00,215.38 L477.00,215.33 L480.00,215.29 L483.00,215.25 L486.00,215.22 L489.00,215.20 L513.5,215.00"/>
<circle cx="389.2" cy="249.6" r="3.3" fill="#fff" stroke="#3c3c3c" stroke-width="0.8"/>
<circle cx="391.0" cy="269.6" r="3.3" fill="#fff" stroke="#3c3c3c" stroke-width="0.8"/>
<circle cx="389.4" cy="273.4" r="3.3" fill="#fff" stroke="#3c3c3c" stroke-width="0.8"/>
<circle cx="395.3" cy="246.3" r="3.3" fill="#fff" stroke="#3c3c3c" stroke-width="0.8"/>
<circle cx="402.0" cy="243.2" r="3.3" fill="#fff" stroke="#3c3c3c" stroke-width="0.8"/>
<circle cx="389.2" cy="234.8" r="3.3" fill="#fff" stroke="#3c3c3c" stroke-width="0.8"/>
<circle cx="400.5" cy="234.8" r="3.3" fill="#fff" stroke="#3c3c3c" stroke-width="0.8"/>
<circle cx="408.8" cy="231.1" r="3.3" fill="#fff" stroke="#3c3c3c" stroke-width="0.8"/>
<circle cx="390.7" cy="221.8" r="3.3" fill="#fff" stroke="#3c3c3c" stroke-width="0.8"/>
<circle cx="398.9" cy="214.2" r="3.3" fill="#fff" stroke="#3c3c3c" stroke-width="0.8"/>
<circle cx="407.7" cy="208.5" r="3.3" fill="#fff" stroke="#3c3c3c" stroke-width="0.8"/>
<circle cx="411.2" cy="211.2" r="3.3" fill="#fff" stroke="#3c3c3c" stroke-width="0.8"/>
<circle cx="412.9" cy="215.7" r="3.3" fill="#fff" stroke="#3c3c3c" stroke-width="0.8"/>
<circle cx="418.6" cy="210.1" r="3.3" fill="#fff" stroke="#3c3c3c" stroke-width="0.8"/>
<circle cx="423.1" cy="232.1" r="3.3" fill="#fff" stroke="#3c3c3c" stroke-width="0.8"/>
<circle cx="437.1" cy="214.2" r="3.3" fill="#fff" stroke="#3c3c3c" stroke-width="0.8"/>
<circle cx="437.9" cy="219.2" r="3.3" fill="#fff" stroke="#3c3c3c" stroke-width="0.8"/>
<circle cx="448.3" cy="213.7" r="3.3" fill="#fff" stroke="#3c3c3c" stroke-width="0.8"/>
<circle cx="475.6" cy="212.7" r="3.3" fill="#fff" stroke="#3c3c3c" stroke-width="0.8"/>
<circle cx="482.4" cy="220.3" r="3.3" fill="#fff" stroke="#3c3c3c" stroke-width="0.8"/>
<circle cx="392.4" cy="248.7" r="3.3" fill="#fff" stroke="#3c3c3c" stroke-width="0.8"/>
<circle cx="400.4" cy="233.5" r="3.3" fill="#fff" stroke="#3c3c3c" stroke-width="0.8"/>
<line x1="460.1" y1="301.7" x2="476.1" y2="301.7" stroke="#999" stroke-width="1"/>
<text x="477.6" y="304.9" class="lg">R<tspan dy="-2.1" font-size="6.3px">2</tspan><tspan dy="2.1">=0.59</tspan></text>
<path d="M551.5,205.5V211.5M549.3,205.5h4.4M549.3,211.5h4.4" stroke="#808080" stroke-width="0.9" fill="none"/>
<path d="M556.5,187.5V242.5M554.3,187.5h4.4M554.3,242.5h4.4" stroke="#808080" stroke-width="0.9" fill="none"/>
<path d="M561.5,191.5V227.5M559.3,191.5h4.4M559.3,227.5h4.4" stroke="#808080" stroke-width="0.9" fill="none"/>
<path d="M564.5,203.5V227.5M562.3,203.5h4.4M562.3,227.5h4.4" stroke="#808080" stroke-width="0.9" fill="none"/>
<path d="M571.5,190.5V248.5M569.3,190.5h4.4M569.3,248.5h4.4" stroke="#808080" stroke-width="0.9" fill="none"/>
<path d="M574.5,237.5V258.5M572.3,237.5h4.4M572.3,258.5h4.4" stroke="#808080" stroke-width="0.9" fill="none"/>
<path d="M551.5,252.5V262.5M549.3,252.5h4.4M549.3,262.5h4.4" stroke="#808080" stroke-width="0.9" fill="none"/>
<path d="M558.5,250.5V267.5M556.3,250.5h4.4M556.3,267.5h4.4" stroke="#808080" stroke-width="0.9" fill="none"/>
<path d="M555.5,270.5V292.5M553.3,270.5h4.4M553.3,292.5h4.4" stroke="#808080" stroke-width="0.9" fill="none"/>
<path d="M597.5,203.5V217.5M595.3,203.5h4.4M595.3,217.5h4.4" stroke="#808080" stroke-width="0.9" fill="none"/>
<path d="M600.5,192.5V229.5M598.3,192.5h4.4M598.3,229.5h4.4" stroke="#808080" stroke-width="0.9" fill="none"/>
<path d="M610.5,226.5V238.5M608.3,226.5h4.4M608.3,238.5h4.4" stroke="#808080" stroke-width="0.9" fill="none"/>
<path d="M644.5,209.5V229.5M642.3,209.5h4.4M642.3,229.5h4.4" stroke="#808080" stroke-width="0.9" fill="none"/>
<path d="M629.5,220.5H644.5M629.5,218.3v4.4M644.5,218.3v4.4" stroke="#808080" stroke-width="0.9" fill="none"/>
<path d="M644.5,219.5H654.5M644.5,217.3v4.4M654.5,217.3v4.4" stroke="#808080" stroke-width="0.9" fill="none"/>
<circle cx="551.9" cy="211.3" r="3.6" fill="#000"/>
<circle cx="556.8" cy="214.8" r="3.6" fill="#000"/>
<circle cx="561.6" cy="208.6" r="3.6" fill="#000"/>
<circle cx="564.5" cy="214.8" r="3.6" fill="#000"/>
<circle cx="571.2" cy="213.4" r="3.6" fill="#000"/>
<circle cx="571.2" cy="219.5" r="3.6" fill="#000"/>
<circle cx="551.9" cy="224.5" r="3.6" fill="#000"/>
<circle cx="553.4" cy="228.1" r="3.6" fill="#000"/>
<circle cx="554.0" cy="238.8" r="3.6" fill="#000"/>
<circle cx="552.7" cy="243.6" r="3.6" fill="#000"/>
<circle cx="574.5" cy="237.4" r="3.6" fill="#000"/>
<circle cx="551.2" cy="258.0" r="3.6" fill="#000"/>
<circle cx="558.6" cy="258.6" r="3.6" fill="#000"/>
<circle cx="555.4" cy="282.3" r="3.6" fill="#000"/>
<circle cx="597.5" cy="210.7" r="3.6" fill="#000"/>
<circle cx="600.9" cy="211.1" r="3.6" fill="#000"/>
<circle cx="610.8" cy="231.8" r="3.6" fill="#000"/>
<circle cx="638.5" cy="220.3" r="3.6" fill="#000"/>
<circle cx="644.7" cy="219.3" r="3.6" fill="#000"/>
<text x="186.3" y="165" text-anchor="middle" class="ser">CaCl<tspan dy="1.6" font-size="6px">2</tspan><tspan dy="-1.6"> K (mg kg</tspan><tspan dy="-3.2" font-size="6.3px">-1</tspan><tspan dy="3.2">)</tspan></text>
<text x="524.2" y="165" text-anchor="middle" class="ttl">Colwell K (mg kg<tspan dy="-3.2" font-size="6.3px">-1</tspan><tspan dy="3.2">)</tspan></text>
<text x="188.6" y="338.4" text-anchor="middle" class="ttl">NH<tspan dy="1.3" font-size="6px">4</tspan><tspan dy="-1.3">OAc K (mg kg</tspan><tspan dy="-3.2" font-size="6.3px">-1</tspan><tspan dy="3.2">)</tspan></text>
<text x="517.3" y="338.4" text-anchor="middle" class="ttl">DGT K (mg L<tspan dy="-3.2" font-size="6.3px">-1</tspan><tspan dy="3.2">)</tspan></text>
<text transform="translate(7.3,153.2) rotate(-90)" text-anchor="middle" class="ttl" style="font-size:8.85px">Relative dry matter (%)</text>
</svg></body></html>
